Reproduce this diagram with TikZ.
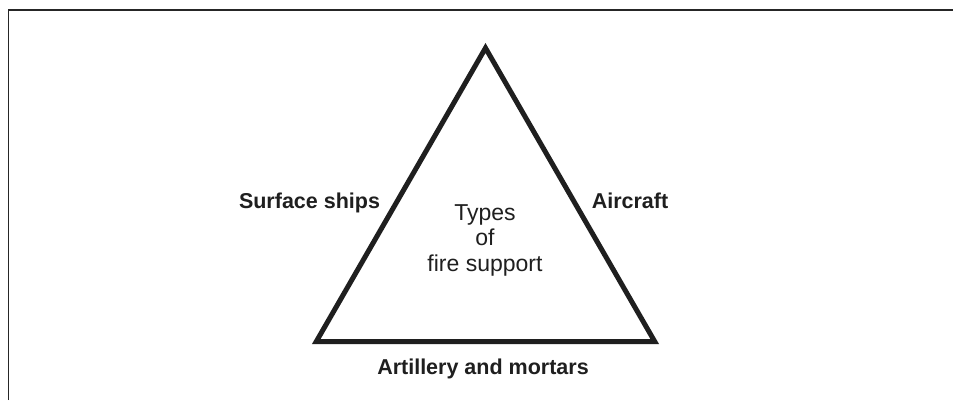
\documentclass[tikz,border=0pt]{standalone}
\usepackage{fontspec}
\setmainfont{Liberation Sans}
\usetikzlibrary{positioning}

\tikzset{
    sidetext/.style={inner sep=0pt, anchor=base, font=\fontsize{21.5}{25}\selectfont\bfseries, text=black!88},
    centertext/.style={inner sep=0pt, anchor=north, align=center, font=\fontsize{23}{25.5}\selectfont, text=black!88},
    edge/.style={line width=5pt, line join=miter, draw=black!88},
    frame/.style={line width=1.6pt, draw=black!85}
}

\begin{document}
\begin{tikzpicture}[x=1pt, y=1pt]
    % Page size and background
    \useasboundingbox (0,0) rectangle (953,400);
    \fill[white] (0,0) rectangle (953,400);

    % Draw the frame (only left and top edges are visible)
    \draw[frame] (8.5,0) -- (8.5,389.8) -- (953,389.8);

    % Corners of the triangle
    \coordinate (apex) at (485.5,352);
    \coordinate (baseleft) at (316.3,58.5);
    \coordinate (baseright) at (654.7,58.5);

    % Draw the triangle
    \draw[edge] (apex) -- (baseright) -- (baseleft) -- cycle;

    % Labels for the sides
    \node[sidetext] (ships) at (309.5,191.7) {Surface ships};
    \node[sidetext] (aircraft) at (630,191.7) {Aircraft};
    \node[sidetext] (artillery) at (483,25.7) {Artillery and mortars};

    % Text inside the triangle
    \node[centertext] (types) at (485,196) {Types\\of\\fire support};
\end{tikzpicture}
\end{document}
